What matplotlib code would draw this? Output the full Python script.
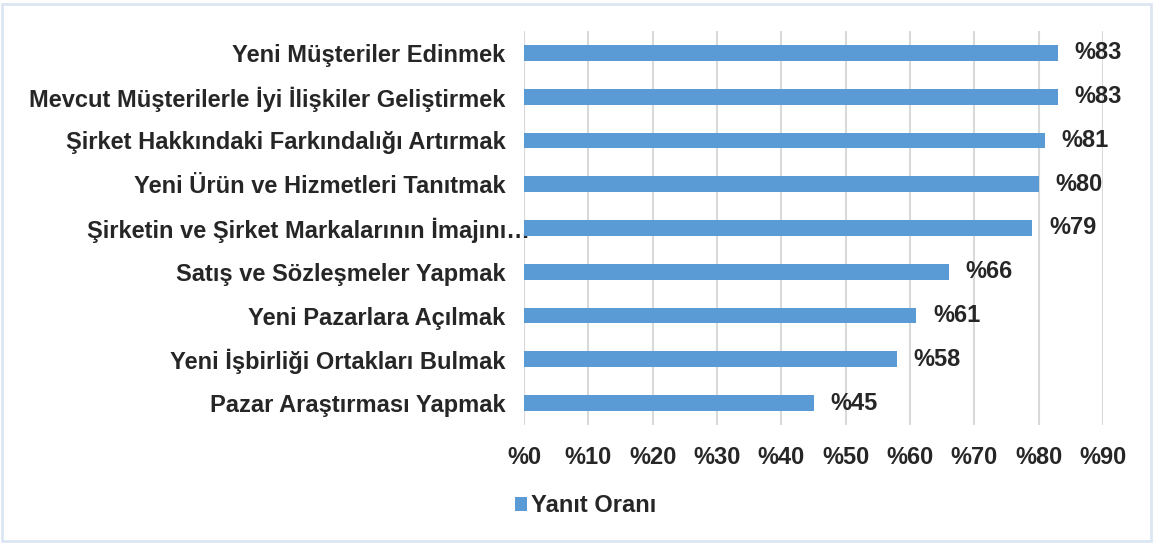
import matplotlib
matplotlib.use("Agg")
import matplotlib.pyplot as plt
from matplotlib.patches import Rectangle
import matplotlib.transforms as mtransforms

categories = [
    "Yeni Müşteriler Edinmek",
    "Mevcut Müşterilerle İyi İlişkiler Geliştirmek",
    "Şirket Hakkındaki Farkındalığı Artırmak",
    "Yeni Ürün ve Hizmetleri Tanıtmak",
    "Şirketin ve Şirket Markalarının İmajını…",
    "Satış ve Sözleşmeler Yapmak",
    "Yeni Pazarlara Açılmak",
    "Yeni İşbirliği Ortakları Bulmak",
    "Pazar Araştırması Yapmak",
]
values = [83, 83, 81, 80, 79, 66, 61, 58, 45]
xticks = [0, 10, 20, 30, 40, 50, 60, 70, 80, 90]
xtick_labels = ["%" + str(t) for t in xticks]
series_name = "Yanıt Oranı"

plt.rcParams['font.family'] = ['Liberation Sans', 'DejaVu Sans']
text_color = "#262626"
bar_color = "#5B9BD5"
FS = 17

fig = plt.figure(figsize=(11.53, 5.45), dpi=100)
ax = fig.add_axes([524/1153, 1-425/545, (1103-524)/1153, (425-31)/545])

ypos = list(range(len(categories)))
bars = ax.barh(ypos, values, height=0.36, color=bar_color, label=series_name, zorder=3)
ax.set_ylim(len(categories) - 0.5, -0.5)
ax.set_xlim(0, 90)
ax.set_xticks(xticks)
ax.set_xticklabels(xtick_labels, fontsize=FS, fontweight='bold', color=text_color)
ax.set_yticks(ypos)
ax.set_yticklabels(categories, fontsize=FS, fontweight='bold', color=text_color)
ax.tick_params(axis='both', length=0)
ax.tick_params(axis='x', pad=15)
ax.tick_params(axis='y', pad=13.5)
ax.xaxis.grid(True, color="#D9D9D9", linewidth=1.5, zorder=0)
for s in ax.spines.values():
    s.set_visible(False)

# the truncated label in the original overflows toward the plot area
lbl = ax.get_yticklabels()[4]
lbl.set_transform(lbl.get_transform() + mtransforms.ScaledTranslation(25/100, 0, fig.dpi_scale_trans))

for y, v in zip(ypos, values):
    ax.text(v + 2.6, y, "%" + str(v), va='center', ha='left', fontsize=FS,
            fontweight='bold', color=text_color)

leg = fig.legend(handles=[bars], labels=[series_name], loc='center left',
                 bbox_to_anchor=(494/1153, 1-506/545), frameon=False,
                 prop={'size': FS, 'weight': 'bold'}, handlelength=0.5,
                 handleheight=0.5, handletextpad=0.15)
for t in leg.get_texts():
    t.set_color(text_color)

fig.patches.append(Rectangle((2/1153, 4/545), 1149/1153, 537/545, transform=fig.transFigure,
                             fill=False, edgecolor="#DCE6F2", linewidth=2))

fig.savefig("out.png", dpi=100)
